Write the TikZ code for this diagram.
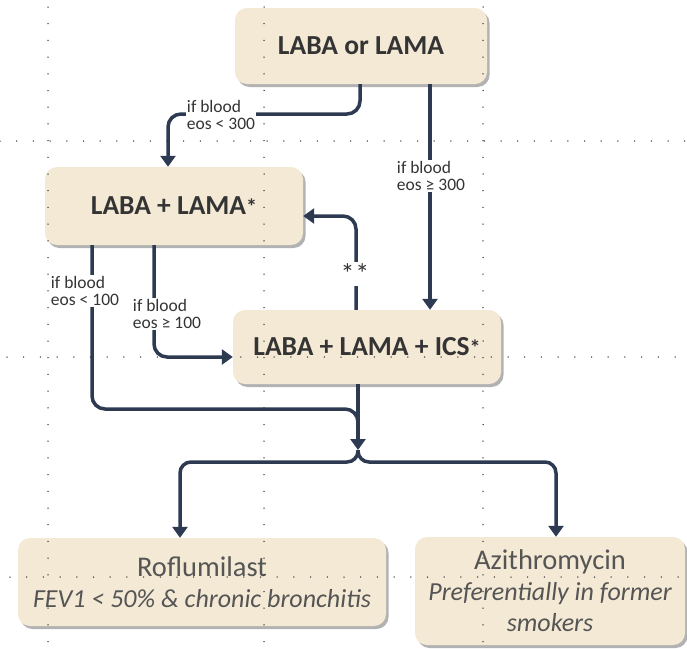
\documentclass[tikz,border=0pt]{standalone}
\usepackage{fontspec}
\setmainfont{Carlito}
\usetikzlibrary{arrows.meta,shadows}
\definecolor{boxfill}{RGB}{243,233,213}
\definecolor{lineblue}{RGB}{45,58,82}
\definecolor{txt}{RGB}{52,52,52}
\definecolor{txtl}{RGB}{85,85,85}
\definecolor{dotc}{RGB}{50,50,50}
\begin{document}
\begin{tikzpicture}[x=1pt,y=-1pt,
 box/.style={draw=none, fill=boxfill, rounded corners=12pt,
   drop shadow={shadow xshift=2.5pt, shadow yshift=-3pt, opacity=0.5, fill=black!60},
   inner sep=0pt, align=center},
 mainbox/.style={box, font=\fontsize{27.5}{30}\selectfont\bfseries, text=txt},
 subbox/.style={box, font=\fontsize{28.5}{31}\selectfont, text=txtl},
 conn/.style={draw=lineblue, line width=3.5pt, rounded corners=13pt},
 arr/.style={conn, -{Triangle[width=15pt,length=11pt]}},
 lbl/.style={fill=white, inner sep=1pt, font=\fontsize{17.5}{17}\selectfont, text=txt, align=left},
 gridline/.style={draw=dotc, line width=1.5pt, line cap=round, dash pattern=on 0pt off 16.7pt}
]
\useasboundingbox (0,0) rectangle (687,648);

% boxes
\node[mainbox, minimum width=252pt, minimum height=76pt] (top) at (361,46) {LABA or LAMA};
\node[mainbox, minimum width=258pt, minimum height=78pt] (ll) at (174,206) {LABA + LAMA{\fontsize{22}{22}\selectfont*}};
\node[mainbox, minimum width=268pt, minimum height=74pt] (ics) at (367,347) {LABA + LAMA + ICS{\fontsize{22}{22}\selectfont*}};
\node[subbox, minimum width=368pt, minimum height=88pt] (rof) at (202,582)
  {Roflumilast\\{\fontsize{26}{31}\selectfont\itshape FEV1 < 50\% \& chronic bronchitis}};
\node[subbox, minimum width=270pt, minimum height=108pt] (azi) at (550,591)
  {Azithromycin\\{\fontsize{26}{31}\selectfont\itshape Preferentially in former}\\{\fontsize{26}{31}\selectfont\itshape smokers}};

% helper x / y positions
\coordinate (a1) at (360,0);
\coordinate (a2) at (168,0);
\coordinate (b1) at (430,0);
\coordinate (c1) at (356,0);
\coordinate (c2) at (0,216);
\coordinate (d1) at (154,0);
\coordinate (d2) at (0,357);
\coordinate (e1) at (92,0);
\coordinate (f1) at (180,0);
\coordinate (g1) at (556,0);
\coordinate (J) at (358,450);

% connectors
\draw[arr] (top.south -| a1) -- (360,114) -- (168,114) -- (ll.north -| a2);
\draw[arr] (top.south -| b1) -- (ics.north -| b1);
\draw[arr] (ics.north -| c1) -- (356,216) -- (ll.east |- c2);
\draw[arr] (ll.south -| d1) -- (154,357) -- (ics.west |- d2);
\draw[conn] (ll.south -| e1) -- (92,409) -- (358,409) -- (358,440);
\draw[arr] (ics.south -| J) -- (J);
\draw[arr, rounded corners=11pt] (J) -- (358,462) -- (180,462) -- (rof.north -| f1);
\draw[arr, rounded corners=11pt] (J) -- (358,462) -- (556,462) -- (azi.north -| g1);

% labels
\node[lbl] (l1) at (221,115) {if blood\\eos < 300};
\node[lbl] (l2) at (431,176) {if blood\\eos ≥ 300};
\node[lbl] (l3) at (85,291) {if blood\\eos < 100};
\node[lbl] (l4) at (167,314) {if blood\\eos ≥ 100};
\node[lbl, font=\fontsize{28}{28}\selectfont, inner sep=2pt, text=txt] (l5) at (355,274) {*\kern1pt*};

% dotted guide lines
\draw[gridline] (48,7) -- (48,648);
\draw[gridline] (264,7) -- (264,648);
\draw[gridline] (483,7) -- (483,648);
\draw[gridline] (0,141) -- (687,141);
\draw[gridline] (7,357) -- (687,357);
\draw[gridline] (10,577) -- (687,577);
\end{tikzpicture}
\end{document}
